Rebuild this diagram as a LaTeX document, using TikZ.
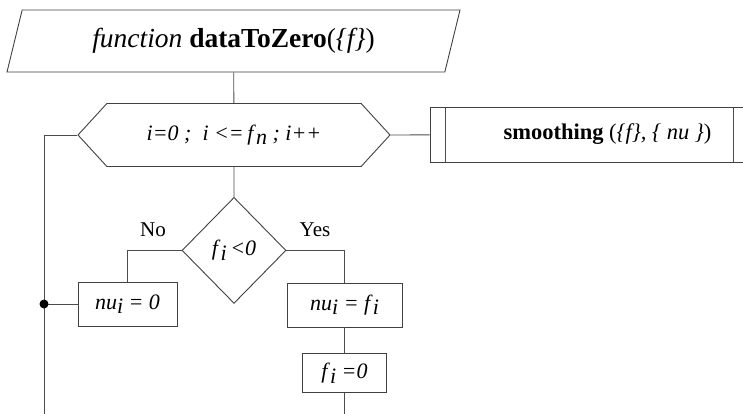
\documentclass[tikz,border=0pt]{standalone}
\usepackage{fontspec}
\setmainfont{Liberation Serif}
\usetikzlibrary{positioning, shapes.geometric, shapes.symbols}

\newcommand{\lowidx}[1]{\raisebox{-0.45ex}{\itshape #1}}

\begin{document}
\begin{tikzpicture}[x=1pt, y=-1pt,
    node distance=30pt,
    font=\fontsize{22}{24}\selectfont,
    line/.style={draw=black!70, line width=0.9pt},
    io/.style={trapezium, trapezium left angle=59, trapezium right angle=121, trapezium stretches body,
               draw=black!75, line width=0.9pt, minimum width=453pt, minimum height=62pt, inner sep=0pt,
               font=\fontsize{27.5}{30}\selectfont},
    loopbox/.style={signal, signal to=west and east, signal pointer angle=95,
               draw=black!75, line width=0.9pt, minimum width=312pt, minimum height=63pt, inner sep=0pt,
               font=\fontsize{22}{24}\selectfont},
    decision/.style={diamond, draw=black!75, line width=0.9pt, minimum width=104pt, minimum height=106pt, inner sep=0pt},
    process/.style={rectangle, draw=black!75, line width=0.9pt, minimum height=44pt, inner sep=0pt},
    subproc/.style={rectangle, draw=black!75, line width=0.9pt, minimum width=319pt, minimum height=55pt, inner sep=0pt,
               font=\fontsize{22.5}{25}\selectfont},
    answer/.style={font=\fontsize{21}{24}\selectfont}
  ]
  \useasboundingbox (0,0) rectangle (743,414);

  \node[io] (start) at (233.5,41) {\textit{function} \textbf{dataToZero}(\textit{\{f\}})};
  \node[loopbox] (loop) at (234,135) {\textit{i=0 ;\ \ i <=\,f}\lowidx{n}\textit{ ; i++}};
  \node[subproc] (smooth) at (589.5,134.5) {\hspace*{36pt}\textbf{smoothing} (\textit{\{f\}, \{ nu \}})};
  \node[decision, below=of loop.south] (test) {\textit{f}\lowidx{i}\,\textit{<0}};
  \node[answer] (no) at (153,230) {No};
  \node[answer] (yes) at (315,230) {Yes};
  \node[process, minimum width=99pt] (setzero) at (127.5,304) {\textit{nu}\lowidx{i}\textit{ = 0}};
  \node[process, minimum width=115pt] (setnu) at (344.5,305) {\textit{nu}\lowidx{i}\textit{ = f}\lowidx{i}};
  \node[process, minimum width=84pt, minimum height=39pt, below=26pt of setnu] (clearf) {\textit{f}\lowidx{i}\textit{ =0}};

  \coordinate (loopleft) at (44,135);
  \coordinate (join) at (44,304);
  \coordinate (loopend) at (44,414);
  \coordinate (yesend) at (344.5,414);

  % inner bars of the predefined process
  \draw[line] ([xshift=16pt]smooth.north west) -- ([xshift=16pt]smooth.south west);
  \draw[line] ([xshift=-16pt]smooth.north east) -- ([xshift=-16pt]smooth.south east);

  \draw[line] (start) -- (loop);
  \draw[line] (loop.east) -- (smooth);
  \draw[line] (loop.west) -- (loopleft) -- (loopend);
  \draw[line] (loop) -- (test);
  \draw[line] (test.west) -| (setzero.north);
  \draw[line] (test.east) -| (setnu.north);
  \draw[line] (setnu) -- (clearf);
  \draw[line] (clearf) -- (yesend);
  \draw[line] (join) -- (setzero);
  \fill (join) circle (4.5pt);
\end{tikzpicture}
\end{document}
